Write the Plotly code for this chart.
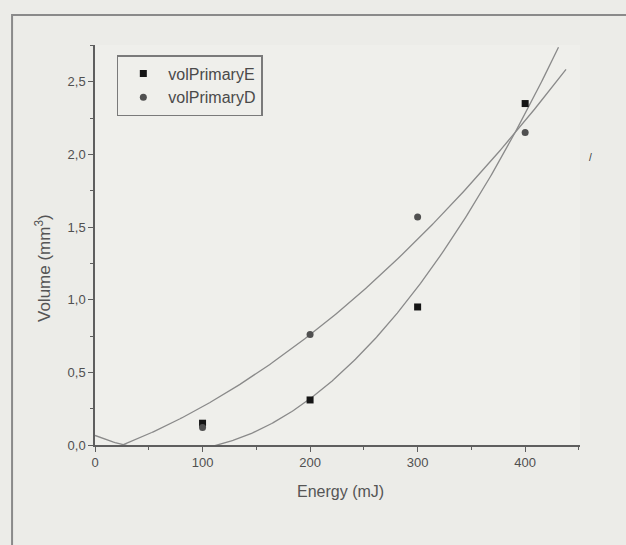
import numpy as np
import plotly.graph_objects as go

# Measured data points
energy = [100, 200, 300, 400]
vol_E = [0.15, 0.31, 0.95, 2.35]
vol_D = [0.12, 0.76, 1.57, 2.15]

# Points
fitE_x = [0, 116, 200, 268, 324, 383, 431]
fitE_y = [0.065, 0.0, 0.32, 0.81, 1.34, 2.0, 2.765]
fitD_x = [26, 88, 144, 200, 290, 369, 438]
fitD_y = [0.0, 0.218, 0.459, 0.76, 1.342, 1.96, 2.586]

xticks = [0, 100, 200, 300, 400]
yticks = [0.0, 0.5, 1.0, 1.5, 2.0, 2.5]

# quadratic regression through the read curve points
cE = np.polyfit(fitE_x, fitE_y, 2)
cD = np.polyfit(fitD_x, fitD_y, 2)
gE = np.linspace(0, max(fitE_x), 300)
gD = np.linspace(0, max(fitD_x), 300)

fig = go.Figure()
line_style = dict(color="#8a8a8a", width=1.3)
fig.add_trace(go.Scatter(x=gE, y=np.polyval(cE, gE), mode="lines",
                         line=line_style, showlegend=False, hoverinfo="skip"))
fig.add_trace(go.Scatter(x=gD, y=np.polyval(cD, gD), mode="lines",
                         line=line_style, showlegend=False, hoverinfo="skip"))
fig.add_trace(go.Scatter(x=energy, y=vol_E, mode="markers", name="volPrimaryE",
                         marker=dict(symbol="square", size=7, color="#151515")))
fig.add_trace(go.Scatter(x=energy, y=vol_D, mode="markers", name="volPrimaryD",
                         marker=dict(symbol="circle", size=7, color="#505050")))

axis_common = dict(
    showgrid=False, zeroline=False, showline=True, linecolor="#5e5e5e", linewidth=1.5,
    ticks="outside", ticklen=5, tickwidth=1.2, tickcolor="#5e5e5e",
    tickfont=dict(family="Liberation Sans, Arial", size=13, color="#505050"),
    mirror=False,
)

fig.update_layout(
    width=626, height=545,
    margin=dict(l=95, r=46, t=45, b=100),
    paper_bgcolor="#ecece8", plot_bgcolor="#efefeb",
    separators=",.",
    font=dict(family="Liberation Sans, Arial", color="#555555"),
    xaxis=dict(range=[0, 451], tickvals=xticks, ticktext=[str(v) for v in xticks],
               minor=dict(ticks="outside", ticklen=3, dtick=50, tickcolor="#5e5e5e"),
               **axis_common),
    yaxis=dict(range=[0, 2.753], tickvals=yticks, tickformat=".1f",
               minor=dict(ticks="outside", ticklen=3, dtick=0.25, tickcolor="#5e5e5e"),
               **axis_common),
    legend=dict(x=0.045, y=0.975, xanchor="left", yanchor="top",
                bgcolor="rgba(0,0,0,0)", bordercolor="#7a7a7a", borderwidth=1.5,
                font=dict(family="Liberation Sans, Arial", size=16, color="#4a4a4a"),
                itemwidth=40, tracegroupgap=0),
    shapes=[dict(type="rect", xref="paper", yref="paper",
                 x0=-0.171, x1=1.3, y0=-0.4, y1=1.075,
                 line=dict(color="#8a8a8a", width=2), layer="below")],
    annotations=[
        dict(text="Energy (mJ)", x=(340 - 95) / 485, y=-(491 - 445) / 400,
             xref="paper", yref="paper", showarrow=False,
             xanchor="center", yanchor="middle",
             font=dict(size=16, color="#555555")),
        dict(text="Volume (mm<sup>3</sup>)", x=(43 - 95) / 485, y=(445 - 268) / 400,
             xref="paper", yref="paper", showarrow=False, textangle=-90,
             xanchor="center", yanchor="middle",
             font=dict(size=17, color="#555555")),
        dict(text="/", x=(590 - 95) / 485, y=(445 - 157) / 400, xref="paper", yref="paper",
             xanchor="center", yanchor="middle",
             showarrow=False, font=dict(size=10, color="#333333")),
    ],
)

fig.write_html("out.html")
